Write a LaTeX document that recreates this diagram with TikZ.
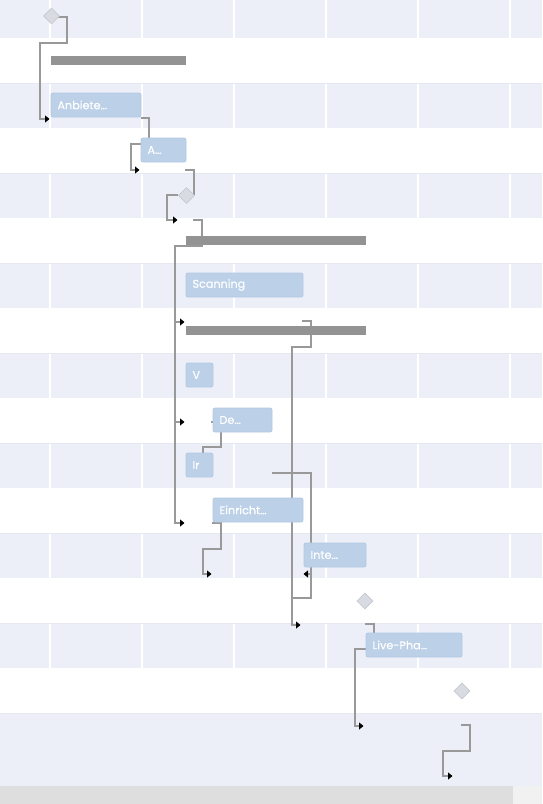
\documentclass[tikz,border=0pt]{standalone}
\usepackage{fontspec}
\setmainfont{Poppins}
\newfontfamily\taskfont{Poppins}[FakeBold=0.35]
\usetikzlibrary{arrows.meta,shapes.geometric}
\definecolor{rowgray}{RGB}{236,239,247}
\definecolor{rowline}{RGB}{229,232,241}
\definecolor{taskfill}{RGB}{188,209,232}
\definecolor{taskdraw}{RGB}{180,201,227}
\definecolor{sumbar}{RGB}{147,147,147}
\definecolor{conn}{RGB}{153,153,153}
\definecolor{msfill}{RGB}{216,220,226}
\definecolor{msdraw}{RGB}{198,202,208}
\definecolor{scrollbar}{RGB}{222,222,222}
\definecolor{scrollcorner}{RGB}{241,241,241}
\begin{document}
\begin{tikzpicture}[x=1pt,y=-1pt,
  task/.style={draw=taskdraw,fill=taskfill,rounded corners=2pt,line width=0.8pt,
    text=white,font=\taskfont\fontsize{11.2}{13}\selectfont,anchor=north west,
    minimum height=24pt,inner xsep=6.5pt,inner ysep=0pt,align=left,outer sep=0pt},
  sbar/.style={fill=sumbar,inner sep=0pt,minimum height=9pt,anchor=north west,outer sep=0pt},
  mstone/.style={diamond,aspect=1,draw=msdraw,fill=msfill,line width=0.8pt,inner sep=0pt,minimum size=16pt},
  link/.style={draw=conn,line width=1.8pt},
  arr/.style={link,-{Triangle[length=4.5pt,width=7pt,color=black]}}
]
\useasboundingbox (0,0) rectangle (542,804);
% background rows
\fill[rowgray] (0,0) rectangle (542,786);
\foreach \x in {50,142,234,326,418,510} \draw[white,line width=1.8pt] (\x,0) -- (\x,713);
\foreach \y in {38,128,218,308,398,488,578,668} {
  \fill[white] (0,\y) rectangle (542,\y+45);
  \draw[rowline,line width=1.5pt] (0,\y+45.5) -- (542,\y+45.5);
}
\fill[scrollbar] (0,786) rectangle (513,804);
\fill[scrollcorner] (513,786) rectangle (542,804);

% connectors (drawn under the bars)
\draw[arr] (58,17) -- (67,17) -- (67,43) -- (40,43) -- (40,119) -- (49.5,119);
\draw[arr] (141,118) -- (149,118) -- (149,144) -- (131,144) -- (131,170) -- (139.5,170);
\draw[link] (185,170) -- (194,170) -- (194,195);
\draw[arr] (178,195) -- (167,195) -- (167,220) -- (177.5,220);
\draw[link] (193,220) -- (202,220) -- (202,246) -- (175,246) -- (175,523);
\draw[arr] (175,322) -- (184.5,322);
\draw[arr] (175,422) -- (184.5,422);
\draw[arr] (174.1,523) -- (184.5,523);
\draw[link] (211,422) -- (213,422);
\draw[arr] (302,321) -- (311,321) -- (311,347) -- (292,347) -- (292,625) -- (300.5,625);
\draw[link] (272,473) -- (311,473) -- (311,598) -- (292,598);
\draw[arr] (311,574) -- (303.5,574);
\draw[link] (221,432) -- (221,447) -- (203,447) -- (203,453);
\draw[arr] (212,523) -- (221,523) -- (221,549) -- (203,549) -- (203,574) -- (211.5,574);
\draw[link] (365,624) -- (374,624) -- (374,633);
\draw[arr] (366,649) -- (355,649) -- (355,726) -- (363.5,726);
\draw[arr] (461,725) -- (470,725) -- (470,751) -- (443,751) -- (443,776) -- (452.5,776);

% milestones
\node[mstone] (m1) at (51.5,16) {};
\node[mstone] (m2) at (186.5,195.5) {};
\node[mstone] (m3) at (365,601) {};
\node[mstone] (m4) at (462,691) {};

% summary bars
\node[sbar,minimum width=135pt] (s1) at (51,56) {};
\node[sbar,minimum width=180pt] (s2) at (186,236) {};
\node[sbar,minimum width=180pt] (s3) at (186,326) {};

% tasks
\node[task,text width=77pt] (anb) at (51,93) {Anbiete…};
\node[task,text width=32pt] (a) at (141,138) {A…};
\node[task,text width=104pt] (scan) at (186,273) {Scanning};
\node[task,text width=14pt] (v) at (186,363) {V};
\node[task,text width=46pt] (de) at (213,408) {De…};
\node[task,text width=14pt] (ir) at (186,453) {Ir};
\node[task,text width=77pt] (ein) at (213,498) {Einricht…};
\node[task,text width=49pt] (inte) at (304,543) {Inte…};
\node[task,text width=83pt] (live) at (366,633) {Live-Pha…};
\end{tikzpicture}
\end{document}
